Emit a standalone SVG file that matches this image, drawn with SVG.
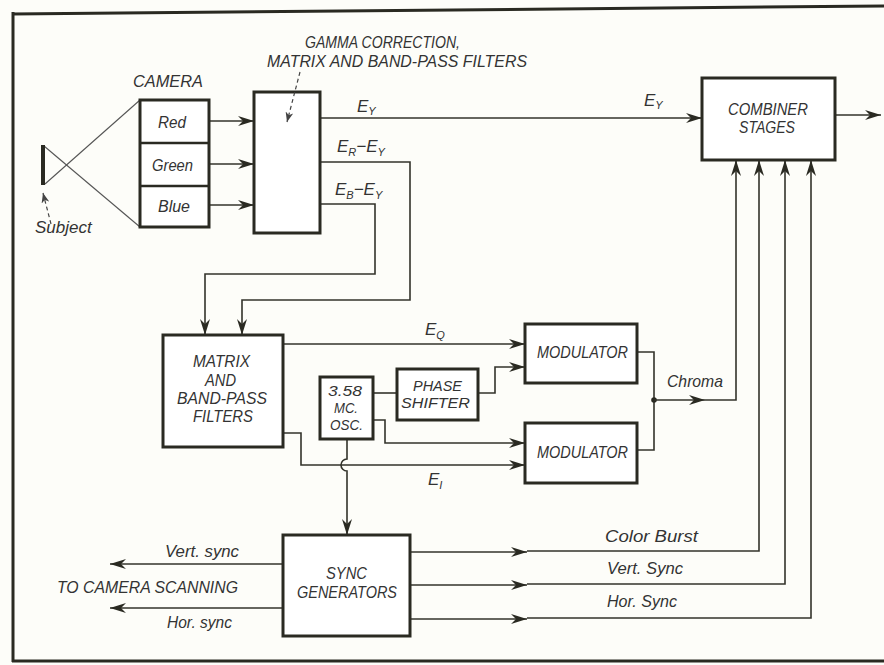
<svg xmlns="http://www.w3.org/2000/svg" width="884" height="665" viewBox="0 0 884 665">
<defs>
<style>
.frame{fill:none;stroke:#2a2a22;stroke-width:3}
.box{fill:#fff;stroke:#2a2a22;stroke-width:3}
.ln{fill:none;stroke:#33332b;stroke-width:1.6}
.thin{fill:none;stroke:#555;stroke-width:1.1}
.dash{fill:none;stroke:#444;stroke-width:1.2;stroke-dasharray:4,3}
.t{font-family:"Liberation Sans",Arial,sans-serif;font-style:italic;font-size:17px;fill:#333}
.sm{font-size:14px}
.s{font-size:11px}
</style>
<marker id="ah" markerUnits="userSpaceOnUse" viewBox="0 0 16 10" markerWidth="16" markerHeight="10" refX="16" refY="5" orient="auto">
<path d="M0,0 L16,5 L0,10 L5,5 z" fill="#2a2a22"/>
</marker>
<marker id="ahs" markerUnits="userSpaceOnUse" viewBox="0 0 10 8" markerWidth="10" markerHeight="8" refX="10" refY="4" orient="auto">
<path d="M0,0 L10,4 L0,8 L3,4 z" fill="#444"/>
</marker>
</defs>
<rect width="884" height="665" fill="#fdfdf9"/>
<g id="frame">
<path class="frame" d="M12,14 L884,6"/>
<path class="frame" d="M13,12 V662"/>
<path class="frame" d="M12,661 H884"/>
</g>

<g id="connectors">
<path class="thin" d="M44,146 L140,227"/>
<path class="thin" d="M45,184 L140,100"/>
<path class="dash" d="M51,224 L43,193" marker-end="url(#ahs)"/>
<path class="ln" d="M209,121 H254" marker-end="url(#ah)"/>
<path class="ln" d="M209,164 H254" marker-end="url(#ah)"/>
<path class="ln" d="M209,205 H254" marker-end="url(#ah)"/>
<path class="ln" d="M320,118 H702" marker-end="url(#ah)"/>
<path class="ln" d="M320,162 H410 V300 H242 V335" marker-end="url(#ah)"/>
<path class="ln" d="M320,204 H375 V274 H205 V335" marker-end="url(#ah)"/>
<path class="ln" d="M283,344 H525" marker-end="url(#ah)"/>
<path class="ln" d="M373,393 H397"/>
<path class="ln" d="M478,393 H495 V367 H525" marker-end="url(#ah)"/>
<path class="ln" d="M373,420 H385 V443 H525" marker-end="url(#ah)"/>
<path class="ln" d="M283,433 H301 V465 H525" marker-end="url(#ah)"/>
<path class="ln" d="M347,439 V459 a6,6 0 0 0 0,12 V535" marker-end="url(#ah)"/>
<path class="ln" d="M637,352 H654 V450 H637"/>
<circle cx="654" cy="400" r="2.8" fill="#2a2a22"/>
<path class="ln" d="M654,400 H705" marker-end="url(#ah)"/>
<path class="ln" d="M705,400 H736 V160" marker-end="url(#ah)"/>
<path class="ln" d="M410,552 H527" marker-end="url(#ah)"/>
<path class="ln" d="M527,551 H759 V160" marker-end="url(#ah)"/>
<path class="ln" d="M410,585 H527" marker-end="url(#ah)"/>
<path class="ln" d="M527,584 H785 V160" marker-end="url(#ah)"/>
<path class="ln" d="M410,619 H527" marker-end="url(#ah)"/>
<path class="ln" d="M527,618 H811 V160" marker-end="url(#ah)"/>
<path class="ln" d="M835,115 H881" marker-end="url(#ah)"/>
<path class="ln" d="M283,564 H110" marker-end="url(#ah)"/>
<path class="ln" d="M283,608 H110" marker-end="url(#ah)"/>
</g>

<g id="subject">
<path d="M43,145 V185" stroke="#2a2a22" stroke-width="4" fill="none"/>
<text class="t" x="35" y="233">Subject</text>
</g>

<g id="camera">
<text class="t" x="133" y="87" textLength="70" lengthAdjust="spacingAndGlyphs">CAMERA</text>
<rect class="box" x="140" y="100" width="69" height="127"/>
<path d="M140,143 H209 M140,186 H209" stroke="#2a2a22" stroke-width="2.5"/>
<text class="t" x="158" y="128" textLength="28" lengthAdjust="spacingAndGlyphs">Red</text>
<text class="t" x="152" y="171" textLength="41" lengthAdjust="spacingAndGlyphs">Green</text>
<text class="t" x="158" y="212" textLength="32" lengthAdjust="spacingAndGlyphs">Blue</text>
</g>

<g id="gamma">
<text class="t" x="305" y="48" textLength="155" lengthAdjust="spacingAndGlyphs">GAMMA CORRECTION,</text>
<text class="t" x="267" y="67" textLength="260" lengthAdjust="spacingAndGlyphs">MATRIX AND BAND-PASS FILTERS</text>
<rect class="box" x="254" y="92" width="66" height="141"/>
<path class="dash" d="M300,72 L287,122" marker-end="url(#ahs)"/>
</g>

<g id="signal-labels">
<text class="t" x="357" y="112">E<tspan class="s" dy="3">Y</tspan></text>
<text class="t" x="337" y="152">E<tspan class="s" dy="4">R</tspan><tspan dy="-4">−E</tspan><tspan class="s" dy="4">Y</tspan></text>
<text class="t" x="335" y="195">E<tspan class="s" dy="4">B</tspan><tspan dy="-4">−E</tspan><tspan class="s" dy="4">Y</tspan></text>
<text class="t" x="644" y="106">E<tspan class="s" dy="3">Y</tspan></text>
<text class="t" x="425" y="335">E<tspan class="s" dy="4">Q</tspan></text>
<text class="t" x="428" y="485">E<tspan class="s" dy="4">I</tspan></text>
<text class="t" x="667" y="387" textLength="56" lengthAdjust="spacingAndGlyphs">Chroma</text>
<text class="t" x="605" y="542" textLength="93" lengthAdjust="spacingAndGlyphs">Color Burst</text>
<text class="t" x="607" y="574" textLength="76" lengthAdjust="spacingAndGlyphs">Vert. Sync</text>
<text class="t" x="607" y="607" textLength="70" lengthAdjust="spacingAndGlyphs">Hor. Sync</text>
<text class="t" x="165" y="557" textLength="74" lengthAdjust="spacingAndGlyphs">Vert. sync</text>
<text class="t" x="57" y="593" textLength="181" lengthAdjust="spacingAndGlyphs">TO CAMERA SCANNING</text>
<text class="t" x="167" y="628" textLength="65" lengthAdjust="spacingAndGlyphs">Hor. sync</text>
</g>

<g id="combiner">
<rect class="box" x="702" y="78" width="133" height="82" stroke-width="3.5"/>
<text class="t" x="728" y="115" textLength="80" lengthAdjust="spacingAndGlyphs">COMBINER</text>
<text class="t" x="739" y="133" textLength="56" lengthAdjust="spacingAndGlyphs">STAGES</text>
</g>

<g id="matrix">
<rect class="box" x="163" y="335" width="120" height="112"/>
<text class="t" x="193" y="367" textLength="57" lengthAdjust="spacingAndGlyphs">MATRIX</text>
<text class="t" x="205" y="386" textLength="31" lengthAdjust="spacingAndGlyphs">AND</text>
<text class="t" x="177" y="404" textLength="90" lengthAdjust="spacingAndGlyphs">BAND-PASS</text>
<text class="t" x="193" y="422" textLength="60" lengthAdjust="spacingAndGlyphs">FILTERS</text>
</g>

<g id="oscillator">
<rect class="box" x="320" y="377" width="53" height="62"/>
<text class="t sm" x="328" y="396" textLength="34" lengthAdjust="spacingAndGlyphs">3.58</text>
<text class="t sm" x="334" y="413" textLength="24" lengthAdjust="spacingAndGlyphs">MC.</text>
<text class="t sm" x="330" y="430" textLength="33" lengthAdjust="spacingAndGlyphs">OSC.</text>
</g>

<g id="phase-shifter">
<rect class="box" x="397" y="369" width="81" height="51"/>
<text class="t sm" x="413" y="391" textLength="49" lengthAdjust="spacingAndGlyphs">PHASE</text>
<text class="t sm" x="401" y="408" textLength="69" lengthAdjust="spacingAndGlyphs">SHIFTER</text>
</g>

<g id="modulator-1">
<rect class="box" x="525" y="324" width="112" height="59"/>
<text class="t" x="537" y="358" textLength="91" lengthAdjust="spacingAndGlyphs">MODULATOR</text>
</g>

<g id="modulator-2">
<rect class="box" x="525" y="423" width="112" height="60"/>
<text class="t" x="537" y="458" textLength="91" lengthAdjust="spacingAndGlyphs">MODULATOR</text>
</g>

<g id="sync-generators">
<rect class="box" x="283" y="535" width="127" height="101"/>
<text class="t" x="326" y="579" textLength="41" lengthAdjust="spacingAndGlyphs">SYNC</text>
<text class="t" x="297" y="598" textLength="100" lengthAdjust="spacingAndGlyphs">GENERATORS</text>
</g>
</svg>
